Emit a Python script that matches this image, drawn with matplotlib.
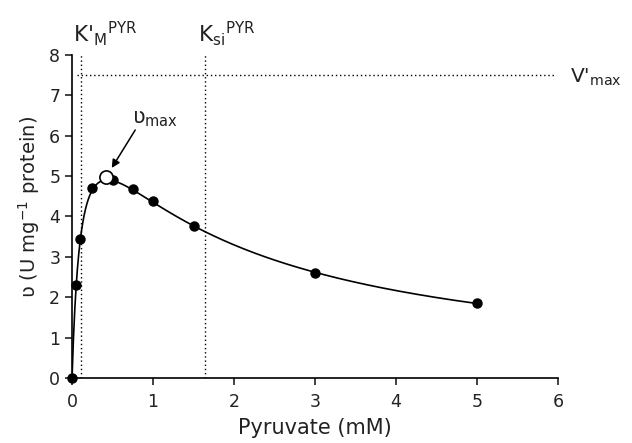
import numpy as np
import matplotlib
matplotlib.use("Agg")
import matplotlib.pyplot as plt

# data
pyruvate = [0.0, 0.05, 0.1, 0.25, 0.5, 0.75, 1.0, 1.5, 3.0, 5.0]
rate = [0.0, 2.3, 3.45, 4.7, 4.9, 4.68, 4.37, 3.77, 2.61, 1.85]

# fitted substrate-inhibition parameters
Vmax_app = 7.5
Km_app = 0.115
Ksi = 1.64
vmax_point_x = [0.42]
vmax_point_y = [4.98]

x_ticks = [0, 1, 2, 3, 4, 5, 6]
y_ticks = [0, 1, 2, 3, 4, 5, 6, 7, 8]

plt.rcParams['font.family'] = ['DejaVu Sans']
txt = '#222222'

fig = plt.figure(figsize=(6.32, 4.43), dpi=100)
ax = fig.add_axes([0.114, 0.147, 0.769, 0.729])

s = np.linspace(0, 5, 600)
v = Vmax_app * s / (Km_app + s + s**2 / Ksi)
ax.plot(s, v, color='black', lw=1.2, zorder=3)
ax.plot(pyruvate, rate, 'o', color='black', ms=6.5, zorder=4, clip_on=False)
ax.plot(vmax_point_x, vmax_point_y, 'o', mfc='white', mec='black', ms=9.5, mew=1.2, zorder=5)

# reference lines
ax.axvline(Km_app, ymin=0, ymax=1, color='black', lw=1, ls=(0, (1, 2)), zorder=1)
ax.axvline(Ksi, ymin=0, ymax=1, color='black', lw=1, ls=(0, (1, 2)), zorder=1)
ax.plot([0.06, 5.97], [Vmax_app, Vmax_app], color='black', lw=1, ls=(0, (1, 2)),
        clip_on=False, zorder=1)

ax.set_xlim(0, 6)
ax.set_ylim(0, 8)
ax.set_xticks(x_ticks)
ax.set_yticks(y_ticks)
ax.spines['top'].set_visible(False)
ax.spines['right'].set_visible(False)
ax.spines['left'].set_linewidth(1.2)
ax.spines['bottom'].set_linewidth(1.2)
ax.tick_params(direction='out', length=5, width=1.2, labelsize=12.5, colors=txt)
ax.tick_params(axis='x', pad=6)

ax.set_xlabel('Pyruvate (mM)', fontsize=15, color=txt, labelpad=5)
ax.set_ylabel('ʋ (U mg$^{\\mathregular{-1}}$ protein)', fontsize=14, color=txt, labelpad=4)
ax.yaxis.set_label_coords(-0.062, 0.53)

ax.text(0.01, 8.32, "K'$_{\\mathregular{M}}$$^{\\mathregular{PYR}}$", fontsize=15.5,
        ha='left', va='baseline', color=txt)
ax.text(1.56, 8.32, "K$_{\\mathregular{si}}$$^{\\mathregular{PYR}}$", fontsize=15.5,
        ha='left', va='baseline', color=txt)
ax.text(6.15, Vmax_app - 0.05, "V'$_{\\mathregular{max}}$", fontsize=14.5,
        ha='left', va='center', color=txt, clip_on=False)

ax.annotate('', xy=(0.49, 5.2), xytext=(0.78, 6.14),
            arrowprops=dict(arrowstyle='-|>', color='black', lw=1.1,
                            mutation_scale=12, shrinkA=0, shrinkB=0))
ax.text(0.74, 6.31, 'ʋ$_{\\mathregular{max}}$', fontsize=15, color=txt,
        ha='left', va='baseline')

fig.savefig('out.png', dpi=100)
